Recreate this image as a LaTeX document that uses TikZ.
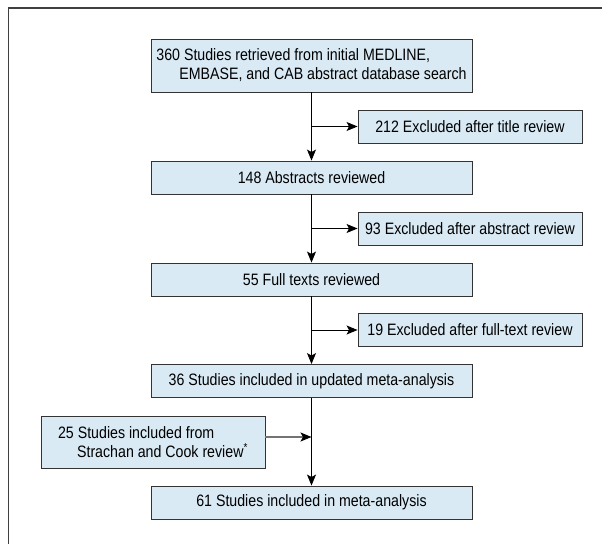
\documentclass[tikz,border=0pt]{standalone}
\usepackage{fontspec}
\setmainfont{Liberation Sans}[FakeStretch=0.86]
\usepackage{tikz}
\usetikzlibrary{arrows.meta}
\definecolor{boxblue}{HTML}{D9EAF5}
\colorlet{boxline}{black!80}
\colorlet{framegray}{black!75}
\colorlet{sidegray}{black!55}

\begin{document}
\begin{tikzpicture}[x=1pt,y=-1pt,>={Stealth[length=11pt,width=9pt,inset=2.5pt]},
  stage/.style={draw=boxline,fill=boxblue,line width=0.9pt,minimum width=321pt,
    minimum height=33pt,inner sep=0pt,font=\fontsize{16.5}{19}\selectfont},
  excl/.style={stage,minimum width=224pt},
  flow/.style={line width=0.9pt}]
\useasboundingbox (0,0) rectangle (602,544);
% ---- outer frame, runs off the right and bottom edges ----
\draw[framegray,line width=1.6pt] (8.5,544) -- (8.5,8) -- (602,8);
% ---- main column ----
\node[stage,minimum height=53pt,align=left] (search) at (311.5,65.5)
  {360 Studies retrieved from initial MEDLINE,\\\hspace*{23pt}EMBASE, and CAB abstract database search};
\node[stage] (abstracts) at (311.5,177.5) {148 Abstracts reviewed};
\node[stage] (fulltexts) at (311.5,279.5) {55 Full texts reviewed};
\node[stage] (updated) at (311.5,381) {36 Studies included in updated meta-analysis};
\node[stage] (final) at (311.5,502.5) {61 Studies included in meta-analysis};
% ---- exclusions on the right ----
\node[excl] (title) at (470,126.5) {212 Excluded after title review};
\node[excl] (abstr) at (470,228.5) {93 Excluded after abstract review};
\node[excl] (fullt) at (470,330) {19 Excluded after full-text review};
% ---- earlier review on the left ----
\node[excl,minimum height=52pt,align=left] (review) at (153,442)
  {25 Studies included from\\\hspace*{19pt}Strachan and Cook review\textsuperscript{*}};
% ---- connectors ----
\draw[flow,->] (search) -- (abstracts);
\draw[flow,->] (abstracts) -- (fulltexts);
\draw[flow,->] (fulltexts) -- (updated);
\draw[flow,->] (updated) -- (final);
\coordinate (b1) at (search.south |- title.west);
\coordinate (b2) at (search.south |- abstr.west);
\coordinate (b3) at (search.south |- fullt.west);
\draw[flow,->] (b1) -- (title);
\draw[flow,->] (b2) -- (abstr);
\draw[flow,->] (b3) -- (fullt);
\coordinate (sidein) at ([yshift=5pt]review.east);
\coordinate (join) at (sidein -| updated.south);
\draw[sidegray,line width=1.2pt,-{Stealth[length=11pt,width=9pt,inset=2.5pt,color=black]}] (sidein) -- (join);
\end{tikzpicture}
\end{document}
